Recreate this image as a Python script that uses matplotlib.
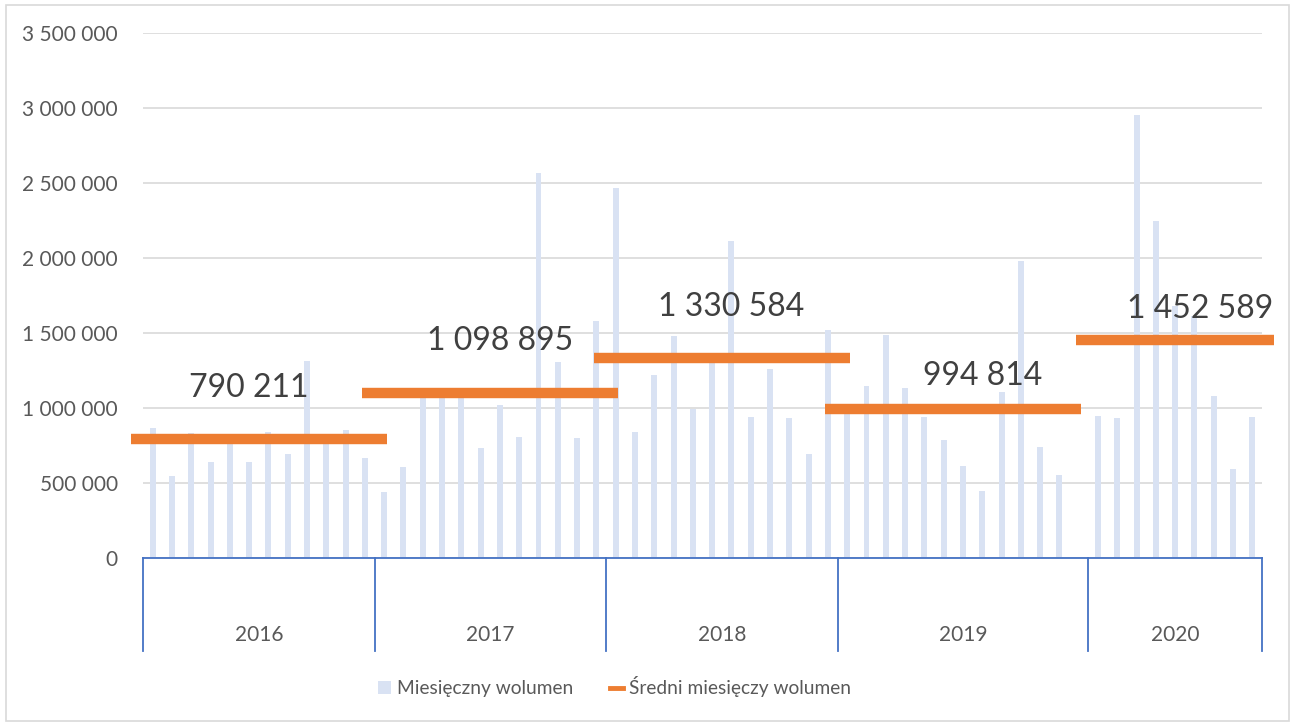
import numpy as np
import matplotlib
matplotlib.use('Agg')
import matplotlib.pyplot as plt
from matplotlib.patches import Patch, Rectangle
from matplotlib.lines import Line2D
import matplotlib.transforms as mtransforms

plt.rcParams['font.family'] = ['Lato', 'DejaVu Sans']

# Data
years = ['2016', '2017', '2018', '2019', '2020']
vol_2016 = [870e3, 547e3, 831e3, 642e3, 810e3, 638e3, 842e3, 693e3, 1315e3, 800e3, 853e3, 667e3]
vol_2017 = [440e3, 609e3, 1100e3, 1090e3, 1100e3, 736e3, 1020e3, 804e3, 2565e3, 1307e3, 802e3, 1578e3]
vol_2018 = [2467e3, 840e3, 1222e3, 1478e3, 996e3, 1320e3, 2111e3, 938e3, 1262e3, 931e3, 696e3, 1522e3]
vol_2019 = [980e3, 1149e3, 1489e3, 1135e3, 940e3, 789e3, 611e3, 447e3, 1109e3, 1982e3, 742e3, 551e3, np.nan]
vol_2020 = [949e3, 933e3, 2951e3, 2249e3, 1680e3, 1611e3, 1082e3, 591e3, 942e3]
averages = [790211, 1098895, 1330584, 994814, 1452589]
avg_labels = ['790 211', '1 098 895', '1 330 584', '994 814', '1 452 589']

groups = [vol_2016, vol_2017, vol_2018, vol_2019, vol_2020]
monthly = np.concatenate(groups)
x = np.arange(len(monthly))

BAR_COLOR = '#D9E2F3'
ORANGE = '#ED7D31'
AXIS_BLUE = '#4472C4'

fig = plt.figure(figsize=(12.92, 7.22), dpi=100)
ax = fig.add_axes([143 / 1292, 164 / 722, 1119 / 1292, 525 / 722])

ax.bar(x, monthly, width=0.31, color=BAR_COLOR, zorder=2)

ax.set_xlim(-0.5, len(monthly) - 0.5)
ax.set_ylim(0, 3.5e6)
ax.set_yticks(np.arange(0, 3.5e6 + 1, 5e5))
ax.set_yticklabels([f'{int(v):,}'.replace(',', ' ') for v in ax.get_yticks()])
ax.tick_params(axis='y', length=0, pad=18, labelsize=15, labelcolor='#595959')
ax.set_xticks([])
ax.grid(axis='y', color='#D9D9D9', lw=1.2, zorder=0)
ax.set_axisbelow(True)
for s in ['left', 'top', 'right']:
    ax.spines[s].set_visible(False)
ax.spines['bottom'].set_color(AXIS_BLUE)
ax.spines['bottom'].set_linewidth(1.3)

# year group separators, labels, average lines
trans = mtransforms.blended_transform_factory(ax.transData, ax.transAxes)
label_dx = [-0.5, 0.5, 0.5, 1.5, 1.3]
label_dy = [285e3, 290e3, 280e3, 160e3, 150e3]
start = 0
bounds = [-0.5]
for i, g in enumerate(groups):
    g = np.asarray(g)
    end = start + len(g)
    bounds.append(end - 0.5)
    ax.text((start + end - 1) / 2, -0.147, years[i], transform=trans,
            ha='center', va='center', fontsize=15, color='#595959')
    valid = np.where(~np.isnan(g))[0] + start
    x0, x1 = valid[0] - 1.14, valid[-1] + 1.14
    ax.plot([x0, x1], [averages[i], averages[i]], color=ORANGE, lw=7.5,
            solid_capstyle='butt', clip_on=False, zorder=3)
    ax.text((valid[0] + valid[-1]) / 2 + label_dx[i], averages[i] + label_dy[i],
            avg_labels[i], ha='center', va='baseline', fontsize=23,
            color='#404040', zorder=4)
    start = end

for b in bounds:
    ax.plot([b, b], [0, -0.177], transform=trans, color=AXIS_BLUE, lw=1.3,
            clip_on=False)

handles = [Patch(facecolor=BAR_COLOR, edgecolor='none'),
           Line2D([], [], color=ORANGE, lw=3.5)]
fig.legend(handles, ['Miesięczny wolumen', 'Średni miesięczy wolumen'],
           loc='center', bbox_to_anchor=(0.4756, 0.0485), ncol=2, frameon=False,
           fontsize=13.8, labelcolor='#595959', handlelength=0.7,
           handleheight=0.7, handletextpad=0.3, columnspacing=1.9)

fig.patches.append(Rectangle((6 / 1292, 1 / 722), 1283 / 1292, 716 / 722,
                             transform=fig.transFigure, fill=False,
                             edgecolor='#D9D9D9', lw=1.2))

fig.savefig('out.png', dpi=100)
